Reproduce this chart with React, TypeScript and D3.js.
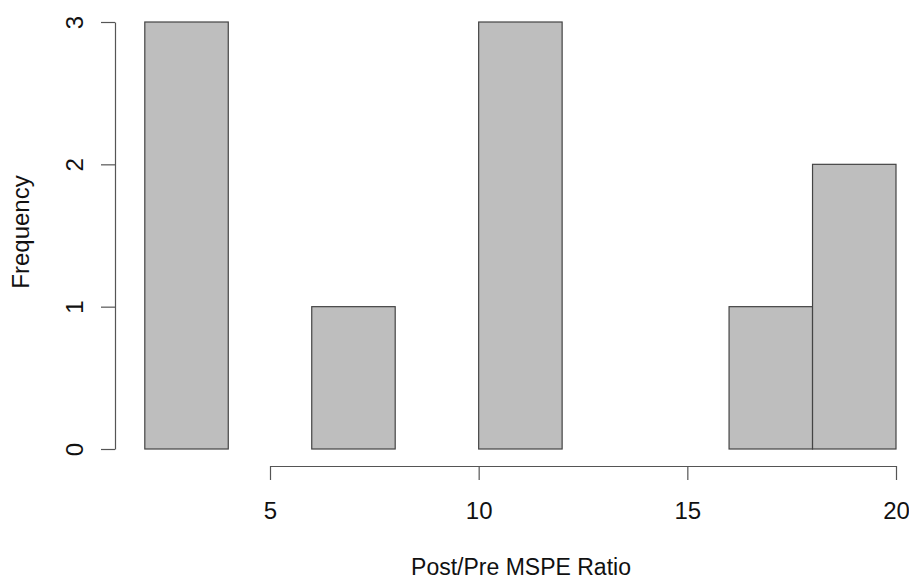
import * as d3 from "d3";
import React, { useEffect, useRef } from "react";

// histogram bins (Post/Pre MSPE ratio) and their counts
const binStarts = [2, 4, 6, 8, 10, 12, 14, 16, 18];
const binWidth = 2;
const counts = [3, 0, 1, 0, 3, 0, 0, 1, 2];
const xTicks = [5, 10, 15, 20];
const yTicks = [0, 1, 2, 3];

const width = 909;
const height = 579;
const font = "'Liberation Sans', Arial, sans-serif";
const fontSize = "24px";

const App = () => {
  const ref = useRef<HTMLDivElement>(null);

  useEffect(() => {
    const x = d3.scaleLinear().domain([5, 20]).range([270, 896]);
    const y = d3.scaleLinear().domain([0, 3]).range([449, 22]);

    const svg = d3
      .create("svg")
      .attr("width", width)
      .attr("height", height)
      .style("display", "block")
      .style("background", "#fff");

    // bars
    svg
      .append("g")
      .selectAll("rect")
      .data(binStarts)
      .join("rect")
      .attr("x", (d) => x(d))
      .attr("y", (d, i) => y(counts[i]))
      .attr("width", (d) => x(d + binWidth) - x(d))
      .attr("height", (d, i) => y(0) - y(counts[i]))
      .attr("fill", "#bebebe")
      .attr("stroke", "#444")
      .attr("stroke-width", 1.2);

    // x axis
    const xAxis = svg
      .append("g")
      .attr("transform", "translate(0,466)")
      .call(d3.axisBottom(x).tickValues(xTicks).tickSize(14).tickSizeOuter(0));
    xAxis.select(".domain").attr("stroke", "#555").attr("stroke-width", 1.2);
    xAxis.selectAll(".tick line").attr("stroke", "#555").attr("stroke-width", 1.2);
    xAxis
      .selectAll(".tick text")
      .attr("fill", "#111")
      .attr("y", 53)
      .attr("dy", null)
      .style("font-family", font)
      .style("font-size", fontSize);

    // y axis
    const yAxis = svg
      .append("g")
      .attr("transform", "translate(115,0)")
      .call(d3.axisLeft(y).tickValues(yTicks).tickFormat(d3.format("d")).tickSize(14).tickSizeOuter(0));
    yAxis.select(".domain").attr("stroke", "#555").attr("stroke-width", 1.2);
    yAxis.selectAll(".tick line").attr("stroke", "#555").attr("stroke-width", 1.2);
    yAxis
      .selectAll(".tick text")
      .attr("fill", "#111")
      .attr("x", null)
      .attr("dy", null)
      .attr("text-anchor", "middle")
      .attr("transform", "translate(-32,0) rotate(-90)")
      .style("font-family", font)
      .style("font-size", fontSize);

    // axis titles
    svg
      .append("text")
      .attr("x", 521)
      .attr("y", 575)
      .attr("text-anchor", "middle")
      .attr("fill", "#111")
      .style("font-family", font)
      .style("font-size", "23px")
      .text("Post/Pre MSPE Ratio");

    svg
      .append("text")
      .attr("transform", "translate(29,232) rotate(-90)")
      .attr("text-anchor", "middle")
      .attr("fill", "#111")
      .style("font-family", font)
      .style("font-size", fontSize)
      .text("Frequency");

    if (ref.current) {
      ref.current.innerHTML = "";
      ref.current.appendChild(svg.node()!);
    }
  }, []);

  return (
    <div
      ref={ref}
      style={{ position: "fixed", top: 0, left: 0, width, height, overflow: "hidden" }}
    ></div>
  );
};

export default App;
